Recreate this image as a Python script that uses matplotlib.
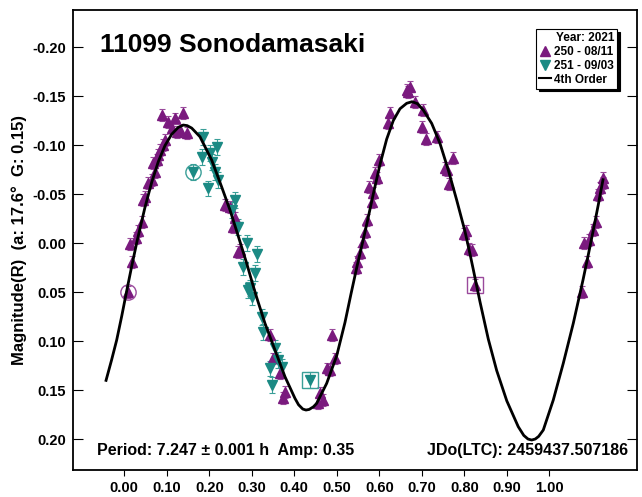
import matplotlib
matplotlib.use("Agg")
import matplotlib.pyplot as plt
from matplotlib.lines import Line2D

plt.rcParams['font.family'] = ['Liberation Sans', 'DejaVu Sans']
plt.rcParams['font.weight'] = 'bold'

# ---- data (phase, magnitude) ----
s250_phase = [0.0094, 0.0174, 0.0134, 0.0275, 0.0329, 0.0409, 0.0447, 0.0487, 0.0565, 0.0645,
              0.0722, 0.0668, 0.0762, 0.0800, 0.0840, 0.0918, 0.0958, 0.0880, 0.1028, 0.1115,
              0.1193, 0.1233, 0.1311, 0.1374, 0.1468, 0.2369, 0.2487, 0.2605, 0.2565, 0.2682,
              0.2722, 0.3428, 0.3506, 0.3664, 0.3781, 0.3741, 0.4565, 0.4605, 0.4682, 0.4762,
              0.4840, 0.4958, 0.4880, 0.5452, 0.5482, 0.5546, 0.5609, 0.5664, 0.5704, 0.5821,
              0.5845, 0.5760, 0.5953, 0.5899, 0.6000, 0.6212, 0.6252, 0.6645, 0.6729, 0.6682,
              0.6840, 0.7035, 0.6998, 0.7099, 0.7350, 0.7741, 0.7546, 0.7586, 0.7640, 0.8033,
              0.7993, 0.8111, 0.8174, 0.8252, 1.0762, 1.0880, 1.0816, 1.0941, 1.1035, 1.1099,
              1.1153, 1.1193, 1.1256, 1.1271]
s250_mag = [0.0497, 0.0191, 0.0010, -0.0048, -0.0122, -0.0217, -0.0439, -0.0472, -0.0609, -0.0643,
            -0.0728, -0.0813, -0.0847, -0.0898, -0.0949, -0.1000, -0.1051, -0.1306, -0.1238, -0.1170,
            -0.1272, -0.1136, -0.1153, -0.1330, -0.1119, -0.0388, -0.0370, -0.0252, -0.0166, 0.0089,
            0.0071, 0.0939, 0.1177, 0.1330, 0.1517, 0.1585, 0.1636, 0.1534, 0.1602, 0.1279,
            0.1296, 0.1177, 0.0939, 0.0258, 0.0191, 0.0105, -0.0013, -0.0115, -0.0235, -0.0421,
            -0.0507, -0.0574, -0.0660, -0.0711, -0.0847, -0.1228, -0.1332, -0.1561, -0.1597, -0.1538,
            -0.1442, -0.1357, -0.1187, -0.1061, -0.1079, -0.0870, -0.0762, -0.0745, -0.0602, -0.0126,
            -0.0092, 0.0064, 0.0071, 0.0429, 0.0497, 0.0191, 0.0003, -0.0031, -0.0133, -0.0217,
            -0.0490, -0.0558, -0.0609, -0.0660]
s250_err = [0.006] * len(s250_phase)

s251_phase = [0.1858, 0.2174, 0.2016, 0.1821, 0.2056, 0.2134, 0.1624, 0.2212, 0.1976, 0.2605,
              0.2527, 0.2682, 0.2880, 0.3129, 0.2800, 0.3075, 0.2958, 0.2918, 0.2998, 0.3233,
              0.3271, 0.3546, 0.3624, 0.3428, 0.3704, 0.3468, 0.4369]
s251_mag = [-0.1085, -0.0983, -0.0921, -0.0881, -0.0830, -0.0728, -0.0728, -0.0643, -0.0558, -0.0439,
            -0.0337, -0.0166, 0.0003, 0.0112, 0.0242, 0.0309, 0.0462, 0.0480, 0.0548, 0.0752,
            0.0905, 0.1074, 0.1194, 0.1279, 0.1262, 0.1449, 0.1398]
s251_err = [0.008] * len(s251_phase)

# first / last points of each session (circle / square)
circle_pts = [(0.0094, 0.0497, '250'), (0.1624, -0.0728, '251')]
square_pts = [(0.8252, 0.0429, '250'), (0.4369, 0.1398, '251')]

# 4th order fit curve
fit_phase = [-0.0438, -0.0300, -0.0179, -0.0060, 0.0056, 0.0180, 0.0306, 0.0487, 0.0645, 0.0800,
             0.0958, 0.1115, 0.1270, 0.1388, 0.1480, 0.1586, 0.1780, 0.2056, 0.2290, 0.2487,
             0.2682, 0.2880, 0.3035, 0.3115, 0.3310, 0.3546, 0.3781, 0.4016, 0.4100, 0.4200,
             0.4275, 0.4350, 0.4450, 0.4527, 0.4762, 0.4998, 0.5193, 0.5334, 0.5475, 0.5593,
             0.5704, 0.5859, 0.6016, 0.6174, 0.6330, 0.6487, 0.6645, 0.6770, 0.6900, 0.7035,
             0.7233, 0.7428, 0.7624, 0.7821, 0.8016, 0.8134, 0.8212, 0.8370, 0.8565, 0.8762,
             0.9000, 0.9270, 0.9400, 0.9500, 0.9586, 0.9670, 0.9750, 0.9859, 1.0094, 1.0329,
             1.0565, 1.0793, 1.0918, 1.1035, 1.1153, 1.1270]
fit_mag = [0.1415, 0.1195, 0.0990, 0.0745, 0.0490, 0.0225, -0.0030, -0.0365, -0.0620, -0.0830,
           -0.0995, -0.1110, -0.1180, -0.1204, -0.1198, -0.1173, -0.1085, -0.0847, -0.0574, -0.0337,
           -0.0070, 0.0207, 0.0440, 0.0555, 0.0819, 0.1092, 0.1364, 0.1585, 0.1650, 0.1694,
           0.1704, 0.1698, 0.1671, 0.1636, 0.1432, 0.1150, 0.0810, 0.0520, 0.0240, 0.0020,
           -0.0190, -0.0500, -0.0800, -0.1060, -0.1250, -0.1370, -0.1426, -0.1442, -0.1422, -0.1357,
           -0.1221, -0.1017, -0.0745, -0.0439, -0.0120, 0.0110, 0.0270, 0.0600, 0.0980, 0.1300,
           0.1610, 0.1874, 0.1963, 0.2000, 0.2010, 0.2000, 0.1973, 0.1908, 0.1602, 0.1228,
           0.0819, 0.0378, 0.0120, -0.0130, -0.0390, -0.0660]

x_ticks = [0.0, 0.1, 0.2, 0.3, 0.4, 0.5, 0.6, 0.7, 0.8, 0.9, 1.0]
y_ticks = [-0.20, -0.15, -0.10, -0.05, 0.0, 0.05, 0.10, 0.15, 0.20]

title = "11099 Sonodamasaki"
ylabel = "Magnitude(R)  (a: 17.6°  G: 0.15)"
footer_left = "Period: 7.247 ± 0.001 h  Amp: 0.35"
footer_right = "JDo(LTC): 2459437.507186"

PURPLE = '#7a1a7e'
TEAL = '#1b8a84'
PURPLE_E = '#9a4a9c'
TEAL_E = '#3a9f98'

fig = plt.figure(figsize=(6.42, 4.97), dpi=100)
ax = fig.add_axes([0.1137, 0.0543, 0.9922 - 0.1137, 0.9799 - 0.0543])

ax.errorbar(s250_phase, s250_mag, yerr=s250_err, fmt='none', ecolor=PURPLE_E,
            elinewidth=0.8, capsize=2.5, capthick=0.8, zorder=2)
ax.errorbar(s251_phase, s251_mag, yerr=s251_err, fmt='none', ecolor=TEAL_E,
            elinewidth=0.8, capsize=2.5, capthick=0.8, zorder=2)
ax.plot(s250_phase, s250_mag, ls='none', marker='^', ms=6.5, color=PURPLE, mec=PURPLE, zorder=3)
ax.plot(s251_phase, s251_mag, ls='none', marker='v', ms=6.5, color=TEAL, mec=TEAL, zorder=3)

for px, py, s in circle_pts:
    c = PURPLE_E if s == '250' else TEAL_E
    ax.plot([px], [py], ls='none', marker='o', ms=11, mfc='none', mec=c, mew=1.0, zorder=4)
for px, py, s in square_pts:
    c = PURPLE_E if s == '250' else TEAL_E
    ax.plot([px], [py], ls='none', marker='s', ms=11, mfc='none', mec=c, mew=1.0, zorder=4)

ax.plot(fit_phase, fit_mag, color='black', lw=2.0, zorder=5,
        solid_capstyle='butt', solid_joinstyle='round')

ax.set_xlim(-0.1207, 1.2064)
ax.set_ylim(0.2316, -0.2378)
ax.set_xticks(x_ticks)
ax.set_xticklabels([f"{v:.2f}" for v in x_ticks], fontsize=10.5, fontweight='bold')
ax.set_yticks(y_ticks)
ax.set_yticklabels([f"{v:.2f}" for v in y_ticks], fontsize=10.5, fontweight='bold')
ax.tick_params(axis='x', direction='out', length=4, width=0.8, pad=4, bottom=True, top=False)
ax.tick_params(axis='y', direction='in', length=7, width=0.8, pad=5, left=True, right=True)
for sp in ax.spines.values():
    sp.set_linewidth(1.3)

ax.set_ylabel(ylabel, fontsize=12, fontweight='bold', labelpad=4)

ax.text(0.048, 0.924, title, transform=ax.transAxes, fontsize=19, fontweight='bold',
        ha='left', va='center')
ax.text(0.042, 0.027, footer_left, transform=ax.transAxes, fontsize=11.5, fontweight='bold',
        ha='left', va='bottom')
ax.text(0.985, 0.027, footer_right, transform=ax.transAxes, fontsize=11.5, fontweight='bold',
        ha='right', va='bottom')

handles = [Line2D([], [], ls='none', marker='^', ms=6.5, color=PURPLE),
           Line2D([], [], ls='none', marker='v', ms=6.5, color=TEAL),
           Line2D([], [], color='black', lw=1.5)]
labels = ["250 - 08/11", "251 - 09/03", "4th Order"]
leg = ax.legend(handles, labels, title="Year: 2021", loc='upper right',
                bbox_to_anchor=(0.9645, 0.958), fontsize=8.5, title_fontsize=8.5,
                frameon=True, fancybox=False, shadow={'color': 'black', 'alpha': 1.0},
                handlelength=1.0, handletextpad=0.3, borderpad=0.25, labelspacing=0.15,
                borderaxespad=0.0, alignment='right')
leg.get_frame().set_edgecolor('black')
leg.get_frame().set_linewidth(0.8)
leg.get_title().set_fontweight('bold')
for t in leg.get_texts():
    t.set_fontweight('bold')

fig.savefig('out.png', dpi=100)
